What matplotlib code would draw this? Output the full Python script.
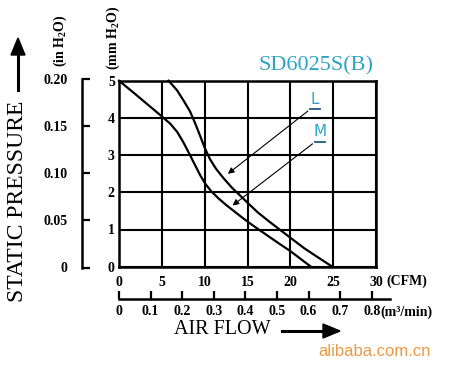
import matplotlib
matplotlib.use('Agg')
import matplotlib.pyplot as plt

cfm_ticks = [0, 5, 10, 15, 20, 25, 30]
mm_ticks = [0, 1, 2, 3, 4, 5]
inch_ticks = [0, 0.05, 0.10, 0.15, 0.20]
inch_labels = ['0', '0.05', '0.10', '0.15', '0.20']
cmm_ticks = [0, 0.1, 0.2, 0.3, 0.4, 0.5, 0.6, 0.7, 0.8]
cmm_labels = ['0', '0.1', '0.2', '0.3', '0.4', '0.5', '0.6', '0.7', '0.8']

m_flow = [0, 1.9, 3.4, 5.0, 6.0, 6.8, 7.5, 8.2, 8.9, 9.5, 10.1, 10.8, 11.6, 12.5, 13.5,
          14.5, 15.5, 16.5, 17.5, 18.7, 20.0, 21.2, 22.4]
m_press = [5, 4.64, 4.35, 4.04, 3.84, 3.62, 3.35, 3.04, 2.72, 2.45, 2.22, 2.02, 1.84, 1.66, 1.48,
           1.3, 1.13, 0.97, 0.81, 0.62, 0.42, 0.21, 0]

l_flow = [5.78, 6.75, 7.5, 8.3, 8.9, 9.5, 10.0, 10.6, 11.3, 12.2, 13.2, 14.2, 15.0,
          16.2, 17.5, 18.8, 20.0, 21.6, 23.3, 24.9]
l_press = [5, 4.75, 4.48, 4.17, 3.85, 3.5, 3.2, 2.9, 2.64, 2.38, 2.12, 1.9, 1.72,
           1.46, 1.22, 0.99, 0.78, 0.5, 0.24, 0]

TEAL = '#2fa3c4'
W, H = 450, 372

plt.rcParams['font.family'] = ['Liberation Serif', 'DejaVu Serif']
plt.rcParams['mathtext.fontset'] = 'custom'
plt.rcParams['mathtext.rm'] = 'Liberation Serif:bold'
plt.rcParams['mathtext.bf'] = 'Liberation Serif:bold'


def box(x0, y0, x1, y1):
    # pixel box (top-left origin) -> figure fraction rect
    return [x0 / W, 1 - y1 / H, (x1 - x0) / W, (y1 - y0) / H]


def main():
    fig = plt.figure(figsize=(4.5, 3.72), dpi=100)
    fig.patch.set_facecolor('white')

    # main chart: mm H2O vs CFM
    ax = fig.add_axes(box(119, 80.7, 376, 266.7))
    ax.set_xlim(0, 30)
    ax.set_ylim(0, 5)
    ax.set_xticks(cfm_ticks)
    ax.set_yticks(mm_ticks)
    ax.set_xticklabels([str(v) for v in cfm_ticks])
    ax.set_yticklabels([str(v) for v in mm_ticks])
    ax.grid(True, color='black', linewidth=1.5)
    for sp in ax.spines.values():
        sp.set_linewidth(1.8)
    ax.tick_params(length=0, labelsize=10)
    ax.tick_params(axis='x', pad=7)
    ax.tick_params(axis='y', pad=3)
    for lab in ax.get_xticklabels() + ax.get_yticklabels():
        lab.set_fontweight('bold')

    ax.plot(m_flow, m_press, color='black', linewidth=1.6, clip_on=False)
    ax.plot(l_flow, l_press, color='black', linewidth=1.6, clip_on=False)

    ax.text(31.2, -0.39, '(CFM)', fontsize=10, fontweight='bold', va='center', ha='left')

    # curve labels
    ax.text(22.9, 4.3, 'L', color=TEAL, fontsize=11, fontfamily='DejaVu Sans Condensed',
            ha='center', va='bottom')
    ax.plot([22.3, 23.5], [4.23, 4.23], color='#205a80', linewidth=1.3)
    ax.annotate('', xy=(12.45, 2.45), xytext=(22.3, 4.23),
                arrowprops=dict(arrowstyle='-|>', color='black', lw=0.8, mutation_scale=9))
    ax.text(23.45, 3.42, 'M', color=TEAL, fontsize=11, fontfamily='DejaVu Sans Condensed',
            ha='center', va='bottom')
    ax.plot([22.85, 24.05], [3.35, 3.35], color='#205a80', linewidth=1.3)
    ax.annotate('', xy=(13.0, 1.6), xytext=(22.85, 3.35),
                arrowprops=dict(arrowstyle='-|>', color='black', lw=0.8, mutation_scale=9))

    # inch H2O scale
    ax_in = fig.add_axes(box(81.7, 79, 100, 267.5))
    ax_in.set_ylim(0, 0.20)
    ax_in.set_xlim(0, 1)
    ax_in.patch.set_alpha(0)
    for name in ('top', 'right', 'bottom'):
        ax_in.spines[name].set_visible(False)
    ax_in.spines['left'].set_linewidth(1.8)
    ax_in.set_xticks([])
    ax_in.set_yticks(inch_ticks)
    ax_in.set_yticklabels(inch_labels)
    ax_in.tick_params(axis='y', direction='in', length=6, width=1.6, pad=10, labelsize=10)
    for lab in ax_in.get_yticklabels():
        lab.set_fontweight('bold')

    # m3/min scale
    ax_m3 = fig.add_axes(box(119, 270, 390, 299))
    ax_m3.set_xlim(0, 271 / 316.0)
    ax_m3.set_ylim(0, 1)
    ax_m3.patch.set_alpha(0)
    for name in ('top', 'right', 'left'):
        ax_m3.spines[name].set_visible(False)
    ax_m3.spines['bottom'].set_linewidth(1.8)
    ax_m3.set_yticks([])
    ax_m3.set_xticks(cmm_ticks)
    ax_m3.set_xticklabels(cmm_labels)
    ax_m3.tick_params(axis='x', direction='in', length=6, width=1.6, pad=4, labelsize=10)
    for lab in ax_m3.get_xticklabels():
        lab.set_fontweight('bold')
    ax_m3.text(0.828, -0.44, '(m³/min)', fontsize=10, fontweight='bold', va='center', ha='left',
               transform=ax_m3.get_xaxis_transform())

    # unit labels
    fig.text(60 / W, 1 - 41 / H, r'(in H$_{\mathbf{2}}$O)', rotation=90, fontsize=10,
             fontweight='bold', ha='center', va='center')
    fig.text(113 / W, 1 - 38 / H, r'(mm H$_{\mathbf{2}}$O)', rotation=90, fontsize=10,
             fontweight='bold', ha='center', va='center')

    # title
    fig.text(316 / W, 1 - 66 / H, 'SD6025S(B)', color=TEAL, fontsize=16, ha='center', va='center')

    # axis titles with arrows
    fig.text(18 / W, 1 - 201 / H, 'STATIC PRESSURE', rotation=90, fontsize=17,
             ha='center', va='center')
    fig.add_artist(plt.Line2D([18 / W, 18 / W], [1 - 90 / H, 1 - 52 / H], color='black', linewidth=2.2))
    fig.add_artist(plt.Polygon([[11 / W, 1 - 55 / H], [25 / W, 1 - 55 / H], [18 / W, 1 - 38 / H]],
                               closed=True, color='black'))
    fig.text(222 / W, 1 - 330 / H, 'AIR FLOW', fontsize=14.5, ha='center', va='center')
    fig.add_artist(plt.Line2D([282 / W, 326 / W], [1 - 331 / H, 1 - 331 / H], color='black', linewidth=2.2))
    fig.add_artist(plt.Polygon([[323 / W, 1 - 324 / H], [323 / W, 1 - 338 / H], [340 / W, 1 - 331 / H]],
                               closed=True, color='black'))

    # watermark
    fig.text(374 / W, 1 - 352 / H, 'alibaba.com.cn', color='#eb9a45', fontsize=12,
             fontfamily='Liberation Sans', ha='center', va='center')

    fig.savefig('out.png', dpi=100)


if __name__ == '__main__':
    main()
